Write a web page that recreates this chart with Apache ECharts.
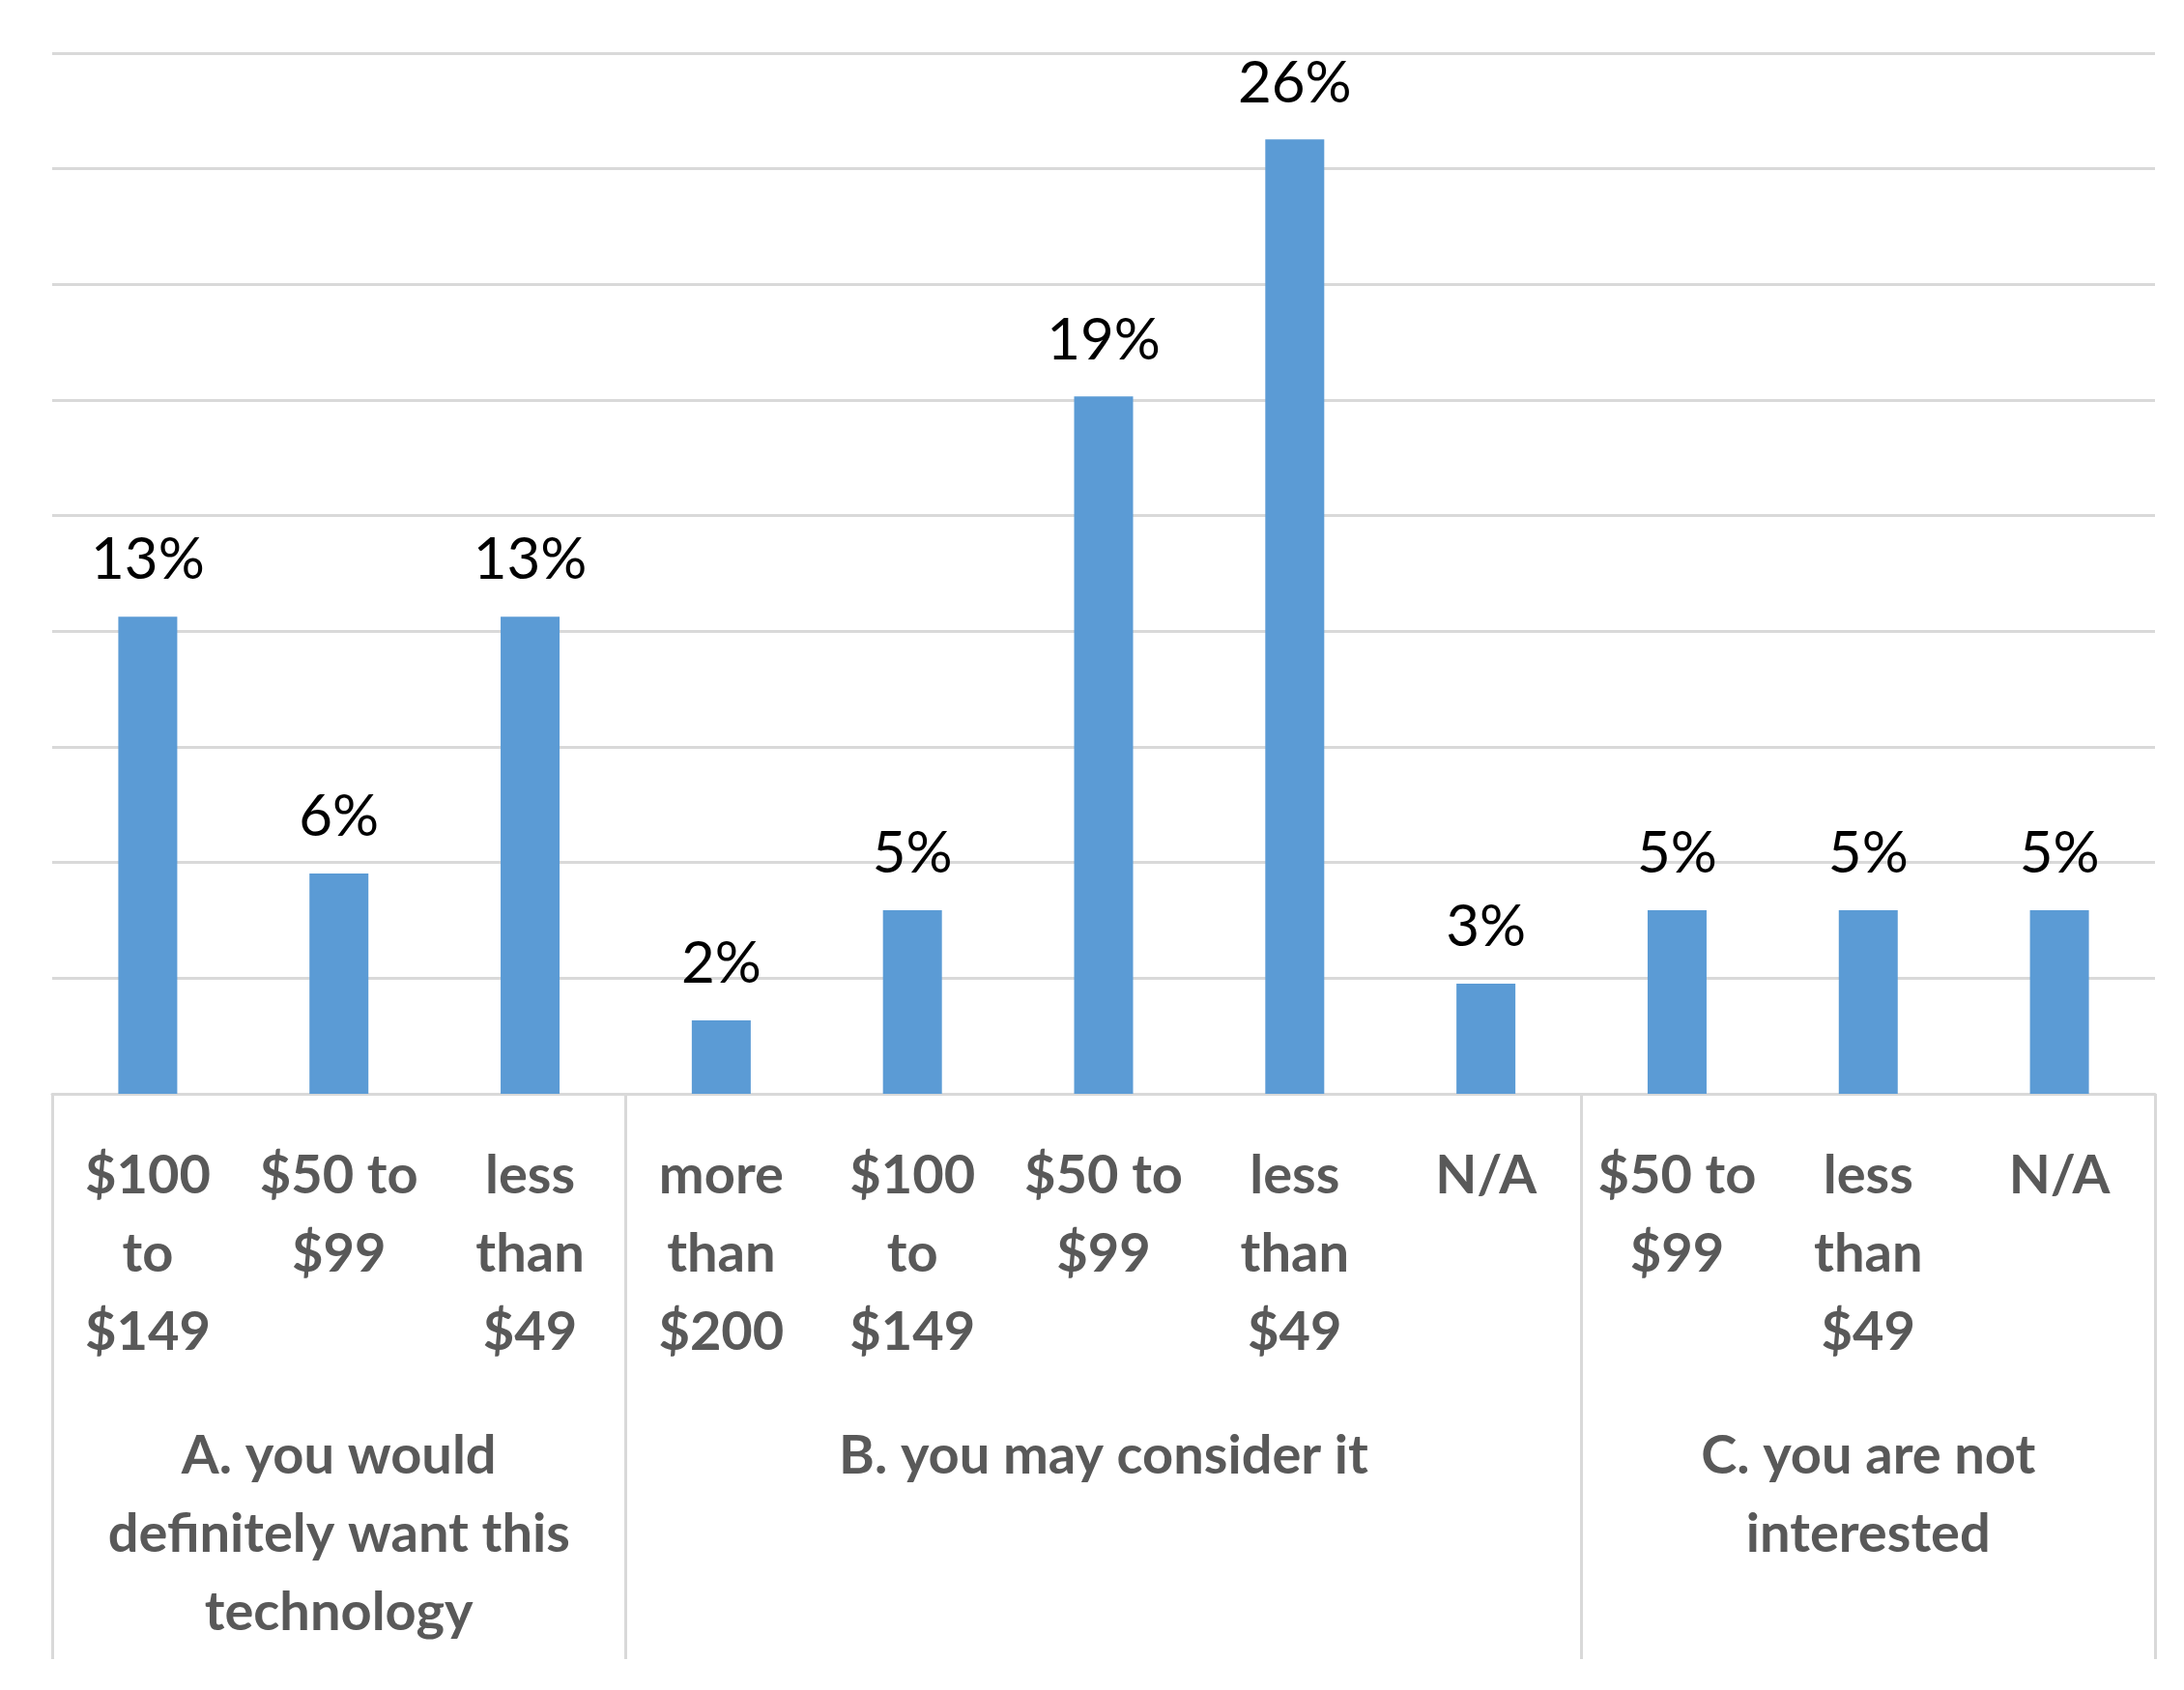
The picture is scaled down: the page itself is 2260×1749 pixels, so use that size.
<!DOCTYPE html>
<html>
<head>
<meta charset="utf-8">
<script src="https://cdn.jsdelivr.net/npm/echarts@6/dist/echarts.min.js"></script>
<style>
  html, body { margin: 0; padding: 0; background: #fff; }
  #chart { width: 2260px; height: 1749px; }
</style>
</head>
<body>
<div id="chart"></div>
<script>
  // price bands, one per bar
  const categories = [
    '$100\nto\n$149', '$50 to\n$99', 'less\nthan\n$49',
    'more\nthan\n$200', '$100\nto\n$149', '$50 to\n$99', 'less\nthan\n$49', 'N/A',
    '$50 to\n$99', 'less\nthan\n$49', 'N/A'
  ];
  // group label sits under the middle bar of each group
  const groups = ['', 'A. you would\ndefinitely want this\ntechnology', '', '', '',
    'B. you may consider it', '', '', '', 'C. you are not\ninterested', ''];
  const groupStarts = [0, 3, 8, 11];
  const values = [13, 6, 13, 2, 5, 19, 26, 3, 5, 5, 5];

  const font = 'Lato, "Open Sans", sans-serif';
  const chart = echarts.init(document.getElementById('chart'));
  chart.setOption({
    animation: false,
    grid: { left: 54, right: 30, top: 55, bottom: 617 },
    xAxis: [
      {
        type: 'category',
        data: categories,
        axisLine: { lineStyle: { color: '#d9d9d9', width: 3 } },
        axisTick: {
          show: true,
          length: 585,
          lineStyle: { color: '#d9d9d9', width: 3 },
          interval: (i) => groupStarts.includes(i)
        },
        axisLabel: {
          interval: 0, color: '#595959', fontFamily: font, fontSize: 56,
          fontWeight: 'bold', lineHeight: 81, margin: 44, verticalAlign: 'top'
        }
      },
      {
        type: 'category',
        position: 'bottom',
        offset: 326,
        data: groups,
        axisLine: { show: false },
        axisTick: { show: false },
        axisLabel: {
          interval: 0, color: '#595959', fontFamily: font, fontSize: 56,
          fontWeight: 'bold', lineHeight: 81, verticalAlign: 'top'
        }
      }
    ],
    yAxis: {
      type: 'value',
      min: 0,
      max: 28.35,
      interval: 3.15,
      axisLabel: { show: false },
      axisLine: { show: false },
      axisTick: { show: false },
      splitLine: { lineStyle: { color: '#d9d9d9', width: 3 } }
    },
    series: [{
      type: 'bar',
      data: values,
      barWidth: 61,
      itemStyle: { color: '#5b9bd5' },
      label: {
        show: true, position: 'top', distance: 28,
        formatter: '{c}%', color: '#000', fontFamily: font, fontSize: 60
      }
    }]
  });
</script>
</body>
</html>
